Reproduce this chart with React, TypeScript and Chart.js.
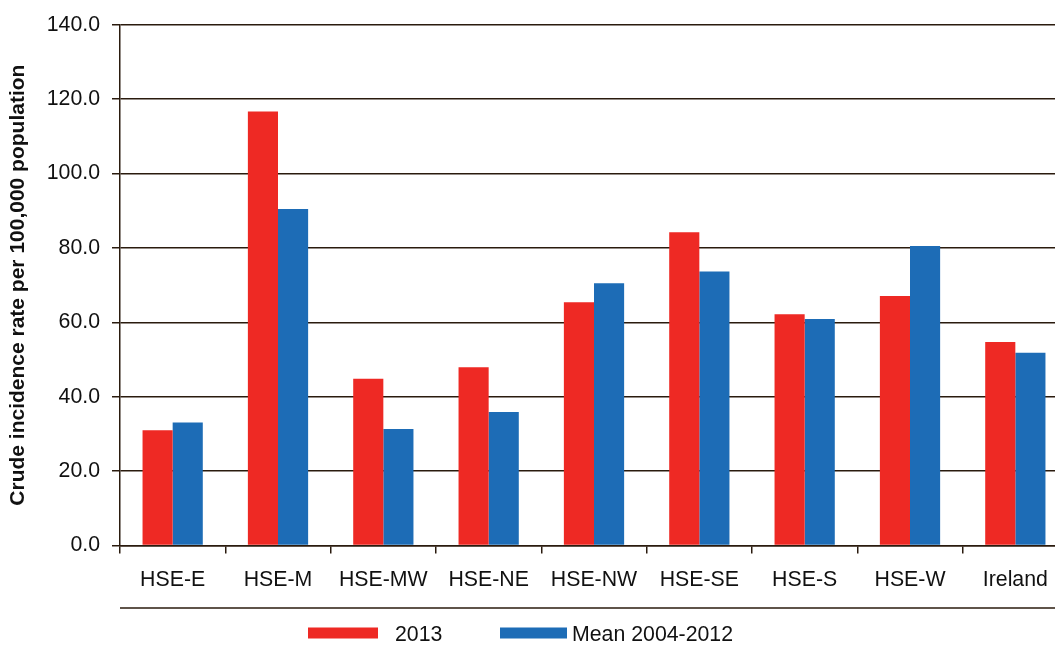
import React, { useEffect, useRef } from "react";
import { Chart, registerables } from "chart.js";

Chart.register(...registerables);

const categories = ["HSE-E", "HSE-M", "HSE-MW", "HSE-NE", "HSE-NW", "HSE-SE", "HSE-S", "HSE-W", "Ireland"];
const values2013 = [31.0, 116.7, 44.8, 47.9, 65.4, 84.2, 62.2, 67.1, 54.7];
const valuesMean = [33.1, 90.5, 31.3, 35.9, 70.5, 73.7, 60.9, 80.5, 51.8];
const seriesNames = ["2013", "Mean 2004-2012"];
const yTitle = "Crude incidence rate per 100,000 population";
const yMin = 0;
const yMax = 140;
const yStep = 20;

const RED = "#ee2924";
const BLUE = "#1d6cb6";
const LINE = "#2a1b0e";
const FONT = "'Liberation Sans', Arial, sans-serif";
const FS = 21.3;

const extrasPlugin = {
  id: "extras",
  afterDraw(chart: any) {
    const ctx = chart.ctx;
    const area = chart.chartArea;
    ctx.save();
    // lower separator line
    ctx.strokeStyle = LINE;
    ctx.lineWidth = 1.5;
    ctx.beginPath();
    ctx.moveTo(area.left, area.bottom + 62.5);
    ctx.lineTo(chart.width, area.bottom + 62.5);
    ctx.stroke();
    // legend
    const items = [
      { x: 308, w: 70, textX: 395 },
      { x: 500, w: 67, textX: 572 },
    ];
    const ly = area.bottom + 82;
    ctx.font = `${FS}px ${FONT}`;
    ctx.textBaseline = "middle";
    ctx.textAlign = "left";
    chart.data.datasets.forEach((ds: any, i: number) => {
      const it = items[i];
      ctx.fillStyle = ds.backgroundColor;
      ctx.fillRect(it.x, ly, it.w, 11);
      ctx.fillStyle = "#111";
      ctx.fillText(ds.label, it.textX, ly + 7.5);
    });
    ctx.restore();
  },
};

export default function App() {
  const ref = useRef<HTMLCanvasElement | null>(null);

  useEffect(() => {
    document.body.style.margin = "0";
    const canvas = ref.current!;
    const chart = new Chart(canvas, {
      type: "bar",
      data: {
        labels: categories,
        datasets: [
          { label: seriesNames[0], data: values2013, backgroundColor: RED, borderWidth: 0 },
          { label: seriesNames[1], data: valuesMean, backgroundColor: BLUE, borderWidth: 0 },
        ],
      },
      options: {
        responsive: false,
        animation: false,
        devicePixelRatio: 1,
        layout: { padding: { top: 22.5, right: 2, left: 0, bottom: 0 } },
        plugins: {
          legend: { display: false },
          tooltip: { enabled: false },
        },
        datasets: {
          bar: { categoryPercentage: 0.572, barPercentage: 1 },
        },
        scales: {
          x: {
            offset: true,
            grid: {
              offset: true,
              drawOnChartArea: false,
              drawTicks: true,
              tickLength: 8,
              color: LINE,
              lineWidth: 1.5,
            },
            border: { color: LINE, width: 1.5 },
            ticks: {
              color: "#111",
              font: { family: FONT, size: FS },
              padding: 14,
              maxRotation: 0,
              autoSkip: false,
            },
            afterFit(scale: any) {
              scale.height = 102.5;
            },
          },
          y: {
            min: yMin,
            max: yMax,
            ticks: {
              stepSize: yStep,
              color: "#111",
              font: { family: FONT, size: FS },
              padding: 12,
              callback: (v: any) => Number(v).toFixed(1),
            },
            grid: {
              color: LINE,
              lineWidth: 1.5,
              tickLength: 8,
              drawTicks: true,
            },
            border: { color: LINE, width: 1.5 },
            title: {
              display: true,
              text: yTitle,
              color: "#111",
              font: { family: FONT, size: 21, weight: "bold" },
              padding: { top: 6, bottom: 0 },
            },
            afterFit(scale: any) {
              scale.width = 120;
            },
          },
        },
      },
      plugins: [extrasPlugin],
    });
    return () => chart.destroy();
  }, []);

  return (
    <div style={{ width: 1055, height: 648, overflow: "hidden", position: "relative" }}>
      <canvas ref={ref} width={1070} height={648} style={{ display: "block", width: 1070, height: 648 }} />
    </div>
  );
}
